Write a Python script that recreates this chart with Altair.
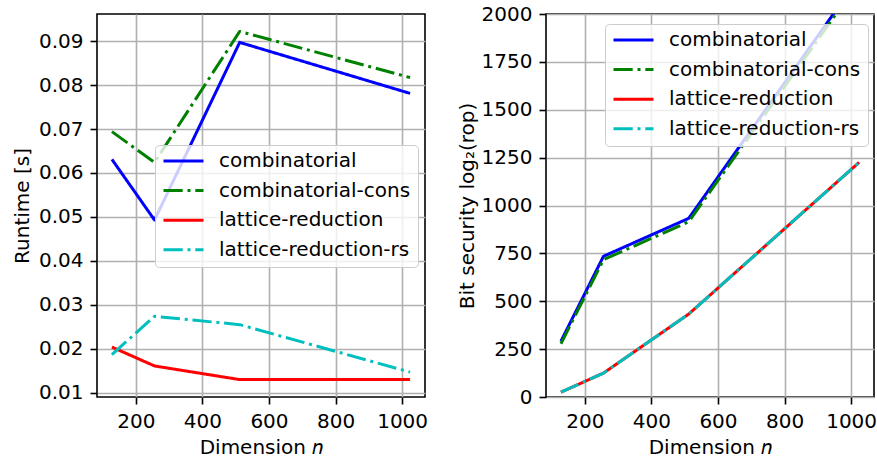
import altair as alt
import pandas as pd

# ---- data ----
dimension = [128, 256, 512, 1024]
series_names = ["combinatorial", "combinatorial-cons", "lattice-reduction", "lattice-reduction-rs"]
series_colors = ["#0000ff", "#008000", "#ff0000", "#00bfbf"]
series_dashes = [[1, 0], [19.2, 4.8, 3, 4.8], [1, 0], [19.2, 4.8, 3, 4.8]]

runtime_combinatorial = [0.0631, 0.0493, 0.0897, 0.0781]
runtime_combinatorial_cons = [0.0694, 0.0624, 0.0922, 0.0817]
runtime_lattice = [0.0204, 0.0161, 0.0130, 0.0130]
runtime_lattice_rs = [0.0187, 0.0274, 0.0255, 0.0147]

security_combinatorial = [291, 735, 933, 2190]
security_combinatorial_cons = [278, 717, 915, 2170]
security_lattice = [25, 125, 433, 1225]
security_lattice_rs = [25, 125, 433, 1225]

dimension_ticks = [200, 400, 600, 800, 1000]
runtime_ticks = [0.01, 0.02, 0.03, 0.04, 0.05, 0.06, 0.07, 0.08, 0.09]
security_ticks = [0, 250, 500, 750, 1000, 1250, 1500, 1750, 2000]


def long_table(columns):
    rows = []
    for name, vals in zip(series_names, columns):
        for n, v in zip(dimension, vals):
            rows.append({"n": n, "value": v, "series": name})
    return pd.DataFrame(rows)


runtime_df = long_table([runtime_combinatorial, runtime_combinatorial_cons,
                         runtime_lattice, runtime_lattice_rs])
security_df = long_table([security_combinatorial, security_combinatorial_cons,
                          security_lattice, security_lattice_rs])

FONT = "DejaVu Sans"
W, H = 328, 383


def make_legend(lx, ly):
    return alt.Legend(
        title=None, orient="none", legendX=lx, legendY=ly,
        fillColor="rgba(255,255,255,0.8)", strokeColor="#cccccc",
        cornerRadius=4, padding=7,
        symbolType="stroke", symbolSize=1600, symbolStrokeWidth=3,
        clipHeight=18, rowPadding=9.6,
        labelFontSize=20, labelFont=FONT, labelColor="black",
        labelOffset=14, labelLimit=400, zindex=1,
    )


x_enc = alt.X(
    "n:Q",
    scale=alt.Scale(domain=[83.2, 1068.8], nice=False, zero=False),
    axis=alt.Axis(values=dimension_ticks, title="Dimension 𝑛", format="d"),
)


def panel(df, y_enc, legend):
    color = alt.Color("series:N",
                      scale=alt.Scale(domain=series_names, range=series_colors),
                      legend=legend)
    dash = alt.StrokeDash("series:N",
                          scale=alt.Scale(domain=series_names, range=series_dashes),
                          legend=legend)
    layers = []
    for name in series_names:
        layers.append(
            alt.Chart(df)
            .transform_filter(alt.datum.series == name)
            .mark_line(clip=True, strokeWidth=3, strokeJoin="round")
            .encode(x=x_enc, y=y_enc, color=color, strokeDash=dash)
        )
    return alt.layer(*layers).properties(width=W, height=H)


left = panel(
    runtime_df,
    alt.Y("value:Q",
          scale=alt.Scale(domain=[0.00904, 0.09616], nice=False, zero=False),
          axis=alt.Axis(values=runtime_ticks, format=".2f", title="Runtime [s]")),
    make_legend(58, 131),
)

right = panel(
    security_df,
    alt.Y("value:Q",
          scale=alt.Scale(domain=[0, 2000], nice=False, zero=False),
          axis=alt.Axis(values=security_ticks, format="d",
                        title="Bit security log₂(rop)", titlePadding=4)),
    make_legend(59, 10),
)

chart = (
    alt.hconcat(left, right, spacing=121, bounds="flush")
    .resolve_scale(color="independent", strokeDash="independent")
    .properties(
        autosize="none",
        padding={"left": 97, "top": 14, "right": 780, "bottom": 442},
    )
    .configure(font=FONT)
    .configure_view(stroke="black", strokeWidth=1.6)
    .configure_axis(
        labelFont=FONT, labelFontSize=20, labelColor="black",
        titleFont=FONT, titleFontSize=20, titleFontWeight="normal", titleColor="black",
        tickColor="black", tickSize=7, tickWidth=1.6,
        labelPadding=7, titlePadding=6,
        grid=True, gridColor="#b0b0b0", gridWidth=1.6,
        domain=False,
    )
)

chart.save("out.html", embed_options={"renderer": "svg", "actions": False})
